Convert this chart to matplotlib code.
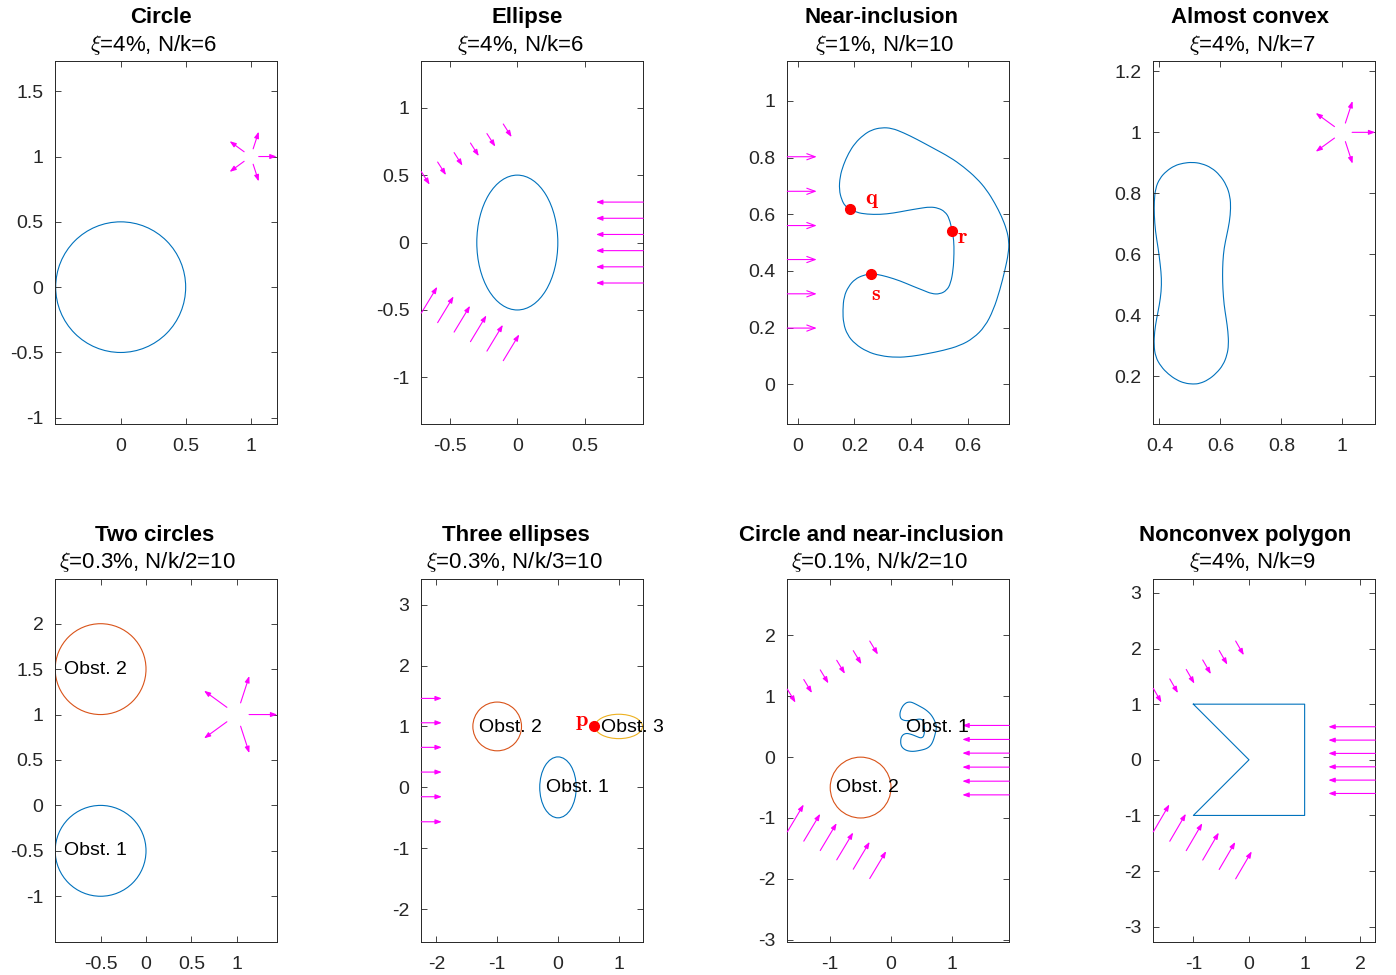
import numpy as np
import matplotlib
matplotlib.use("Agg")
import matplotlib.pyplot as plt
from matplotlib.path import Path
from matplotlib.patches import PathPatch, Ellipse

plt.rcParams['font.family'] = ['Liberation Sans', 'DejaVu Sans']
plt.rcParams['mathtext.fontset'] = 'cm'
plt.rcParams['axes.unicode_minus'] = False

BLUE, ORANGE, YELLOW = '#0072BD', '#D95319', '#EDB120'
MAG, RED, AXC = '#FF00FF', '#FF0000', '#262626'

titles = ['Circle', 'Ellipse', 'Near-inclusion', 'Almost convex',
          'Two circles', 'Three ellipses', 'Circle and near-inclusion', 'Nonconvex polygon']
subtitles = [r'$\xi$=4%, N/k=6', r'$\xi$=4%, N/k=6', r'$\xi$=1%, N/k=10', r'$\xi$=4%, N/k=7',
             r'$\xi$=0.3%, N/k/2=10', r'$\xi$=0.3%, N/k/3=10', r'$\xi$=0.1%, N/k/2=10', r'$\xi$=4%, N/k=9']

xlims = [(-0.503, 1.205), (-0.711, 0.933), (-0.037, 0.747), (0.380, 1.108),
         (-0.999, 1.446), (-2.248, 1.403), (-1.706, 1.946), (-1.72, 2.27)]
ylims = [(-1.046, 1.729), (-1.344, 1.344), (-0.140, 1.140), (0.044, 1.233),
         (-1.498, 2.492), (-2.53, 3.42), (-3.03, 2.928), (-3.266, 3.25)]
xticks = [[0, 0.5, 1], [-0.5, 0, 0.5], [0, 0.2, 0.4, 0.6], [0.4, 0.6, 0.8, 1],
          [-0.5, 0, 0.5, 1], [-2, -1, 0, 1], [-1, 0, 1], [-1, 0, 1, 2]]
yticks = [[-1, -0.5, 0, 0.5, 1, 1.5], [-1, -0.5, 0, 0.5, 1], [0, 0.2, 0.4, 0.6, 0.8, 1],
          [0.2, 0.4, 0.6, 0.8, 1, 1.2], [-1, -0.5, 0, 0.5, 1, 1.5, 2],
          [-2, -1, 0, 1, 2, 3], [-3, -2, -1, 0, 1, 2], [-3, -2, -1, 0, 1, 2, 3]]

# traced boundary of the near-inclusion obstacle
near_x = [0.182, 0.208, 0.244, 0.291, 0.338, 0.385, 0.432, 0.467, 0.496, 0.520, 0.535, 0.545,
          0.551, 0.552, 0.549, 0.540, 0.526, 0.502, 0.473, 0.444, 0.408, 0.361, 0.314, 0.279,
          0.258, 0.232, 0.202, 0.179, 0.163, 0.159, 0.161, 0.175, 0.202, 0.244, 0.291, 0.349,
          0.402, 0.455, 0.514, 0.573, 0.620, 0.661, 0.691, 0.714, 0.732, 0.744, 0.746, 0.738,
          0.720, 0.696, 0.667, 0.632, 0.585, 0.538, 0.479, 0.420, 0.373, 0.332, 0.296, 0.261,
          0.232, 0.202, 0.179, 0.161, 0.149, 0.146, 0.155, 0.167]
near_y = [0.620, 0.606, 0.600, 0.599, 0.604, 0.613, 0.621, 0.626, 0.622, 0.609, 0.586, 0.542,
          0.509, 0.462, 0.404, 0.356, 0.331, 0.318, 0.319, 0.331, 0.345, 0.365, 0.380, 0.388,
          0.389, 0.385, 0.371, 0.345, 0.309, 0.262, 0.215, 0.174, 0.142, 0.115, 0.100, 0.094,
          0.098, 0.107, 0.119, 0.136, 0.162, 0.203, 0.262, 0.333, 0.404, 0.462, 0.504, 0.545,
          0.592, 0.639, 0.686, 0.727, 0.768, 0.801, 0.833, 0.865, 0.888, 0.904, 0.906, 0.898,
          0.880, 0.851, 0.815, 0.774, 0.733, 0.686, 0.651, 0.629]

# traced boundary of the almost convex obstacle
conv_x = [0.507, 0.538, 0.571, 0.598, 0.620, 0.632, 0.634, 0.630, 0.621, 0.612, 0.608, 0.607,
          0.608, 0.612, 0.619, 0.625, 0.627, 0.622, 0.609, 0.587, 0.560, 0.532, 0.511, 0.483,
          0.456, 0.429, 0.405, 0.387, 0.382, 0.384, 0.391, 0.400, 0.406, 0.407, 0.403, 0.396,
          0.387, 0.383, 0.383, 0.387, 0.401, 0.423, 0.450, 0.478]
conv_y = [0.902, 0.898, 0.884, 0.860, 0.827, 0.789, 0.751, 0.707, 0.663, 0.620, 0.576, 0.532,
          0.488, 0.434, 0.390, 0.346, 0.303, 0.270, 0.237, 0.210, 0.188, 0.176, 0.174, 0.177,
          0.188, 0.207, 0.232, 0.264, 0.303, 0.346, 0.390, 0.434, 0.478, 0.521, 0.565, 0.620,
          0.674, 0.729, 0.773, 0.816, 0.849, 0.873, 0.891, 0.899]

poly_x = [-1, 1, 1, -1, 0, -1]
poly_y = [1, 1, -1, -1, 0, 1]

# obstacles: (panel, cx, cy, width, height, colour)
obst_panel = [0, 1, 4, 4, 5, 5, 5, 6]
obst_cx = [0, 0, -0.5, -0.5, 0, -1, 1.0, -0.5]
obst_cy = [0, 0, -0.5, 1.5, 0, 1, 1.0, -0.5]
obst_w = [1.0, 0.6, 1.0, 1.0, 0.6, 0.8, 0.78, 1.0]
obst_h = [1.0, 1.0, 1.0, 1.0, 1.0, 0.8, 0.4, 1.0]
obst_col = [BLUE, BLUE, BLUE, ORANGE, BLUE, ORANGE, YELLOW, ORANGE]

# point sources: (panel, centre, inner/outer radius)
src_panel = [0, 3, 4]
src_r0 = [0.062, 0.032, 0.135]
src_r1 = [0.200, 0.108, 0.446]
src_angles = [0, 72, 144, 216, 288]

# plane wave arrow groups: tails and direction vector
wave_panel = [1, 1, 1, 2, 5, 6, 6, 6, 7, 7, 7]
wave_x0 = [[-0.711, -0.590, -0.468, -0.347, -0.225, -0.104],
           [-0.711, -0.590, -0.468, -0.347, -0.225, -0.104],
           [0.933] * 6,
           [-0.037] * 6,
           [-2.248] * 6,
           [-1.706, -1.435, -1.164, -0.893, -0.621, -0.350],
           [-1.706, -1.435, -1.164, -0.893, -0.621, -0.350],
           [1.946] * 6,
           [-1.720, -1.424, -1.128, -0.832, -0.536, -0.240],
           [-1.720, -1.424, -1.128, -0.832, -0.536, -0.240],
           [2.270] * 6]
wave_y0 = [[0.526, 0.597, 0.667, 0.738, 0.808, 0.879],
           [-0.523, -0.594, -0.664, -0.735, -0.805, -0.876],
           [0.30, 0.18, 0.06, -0.06, -0.18, -0.30],
           [0.198, 0.319, 0.440, 0.560, 0.681, 0.803],
           [1.46, 1.06, 0.657, 0.251, -0.154, -0.565],
           [1.118, 1.276, 1.434, 1.592, 1.750, 1.908],
           [-1.228, -1.381, -1.535, -1.688, -1.842, -1.995],
           [0.521, 0.291, 0.066, -0.164, -0.395, -0.620],
           [1.284, 1.454, 1.624, 1.795, 1.965, 2.135],
           [-1.295, -1.464, -1.633, -1.802, -1.971, -2.140],
           [0.594, 0.354, 0.115, -0.126, -0.365, -0.605]]
wave_dx = [0.062, 0.118, -0.350, 0.104, 0.338, 0.135, 0.270, -0.773, 0.147, 0.289, -0.844]
wave_dy = [-0.097, 0.195, 0, 0, 0, -0.222, 0.450, 0, -0.255, 0.494, 0]

# marked points
pt_panel = [2, 2, 2, 5]
pt_x = [0.183, 0.546, 0.258, 0.592]
pt_y = [0.620, 0.541, 0.388, 1.0]
pt_lab = ['q', 'r', 's', 'p']
lab_x = [0.261, 0.583, 0.276, 0.40]
lab_y = [0.653, 0.519, 0.315, 1.08]

# obstacle labels
txt_panel = [4, 4, 5, 5, 5, 6, 6]
txt_x = [-0.9, -0.9, -0.2, -1.3, 0.70, 0.25, -0.9]
txt_y = [-0.5, 1.5, 0.0, 0.985, 0.985, 0.49, -0.5]
txt_s = ['Obst. 1', 'Obst. 2', 'Obst. 1', 'Obst. 2', 'Obst. 3', 'Obst. 1', 'Obst. 2']

# layout (pixels)
W, H = 1396, 975
col_left = [55.3, 421.3, 787.3, 1153.3]
row_top = [61.3, 579.0]
AW, AH = 222.0, 362.5
t1_off = [-5, -5.6, -17, -14, -12, -16, -27, -19]
t2_off = [-12.6, -11.8, -14, -12, -18.5, -17.6, -19, -12]


def smooth_closed(x, y):
    p = np.column_stack([x, y])
    m = (p + np.roll(p, -1, axis=0)) / 2
    verts = [m[-1]]
    codes = [Path.MOVETO]
    for i in range(len(p)):
        verts += [p[i], m[i]]
        codes += [Path.CURVE3, Path.CURVE3]
    return Path(verts, codes)


def arrow(ax, x0, y0, dx, dy, style):
    ax.annotate('', xy=(x0 + dx, y0 + dy), xytext=(x0, y0), annotation_clip=False,
                arrowprops=dict(arrowstyle=style, color=MAG, lw=0.8,
                                shrinkA=0, shrinkB=0, mutation_scale=10))


fig = plt.figure(figsize=(W / 100, H / 100), dpi=100)
axes = []
for i in range(8):
    r, c = divmod(i, 4)
    ax = fig.add_axes([col_left[c] / W, 1 - (row_top[r] + AH) / H, AW / W, AH / H])
    ax.set_xlim(*xlims[i])
    ax.set_ylim(*ylims[i])
    ax.set_xticks(xticks[i])
    ax.set_yticks(yticks[i])
    ax.set_xticklabels([f'{v:g}' for v in xticks[i]])
    ax.set_yticklabels([f'{v:g}' for v in yticks[i]])
    ax.tick_params(direction='in', length=4, width=0.6, top=True, right=True,
                   labelsize=14, color=AXC, labelcolor=AXC)
    ax.tick_params(axis='x', pad=10.5)
    ax.tick_params(axis='y', pad=8.5)
    for sp in ax.spines.values():
        sp.set_color(AXC)
        sp.set_linewidth(0.7)
    ax.text(0.5 + t1_off[i] / AW, 1 + 43.5 / AH, titles[i], transform=ax.transAxes,
            ha='center', va='center', fontsize=16, fontweight='bold', color='black')
    ax.text(0.5 + t2_off[i] / AW, 1 + 16.5 / AH, subtitles[i], transform=ax.transAxes,
            ha='center', va='center', fontsize=16, color='black')
    axes.append(ax)

for k in range(len(obst_panel)):
    axes[obst_panel[k]].add_patch(Ellipse((obst_cx[k], obst_cy[k]), obst_w[k], obst_h[k],
                                          fill=False, ec=obst_col[k], lw=0.8))

for i in [2, 6]:
    axes[i].add_patch(PathPatch(smooth_closed(near_x, near_y), fill=False, ec=BLUE, lw=0.8))
axes[3].add_patch(PathPatch(smooth_closed(conv_x, conv_y), fill=False, ec=BLUE, lw=0.8))
axes[7].plot(poly_x, poly_y, color=BLUE, lw=0.8)

small = '-|>,head_length=0.38,head_width=0.14'
for k, p in enumerate(src_panel):
    for a in src_angles:
        ca, sa = np.cos(np.radians(a)), np.sin(np.radians(a))
        arrow(axes[p], 1 + src_r0[k] * ca, 1 + src_r0[k] * sa,
              (src_r1[k] - src_r0[k]) * ca, (src_r1[k] - src_r0[k]) * sa, small)

for k, p in enumerate(wave_panel):
    style = '->,head_length=0.6,head_width=0.22' if p == 2 else small
    for x0, y0 in zip(wave_x0[k], wave_y0[k]):
        arrow(axes[p], x0, y0, wave_dx[k], wave_dy[k], style)

for k, p in enumerate(txt_panel):
    axes[p].text(txt_x[k], txt_y[k], txt_s[k], fontsize=14, ha='left', va='center', color='black')

for k, p in enumerate(pt_panel):
    axes[p].plot(pt_x[k], pt_y[k], 'o', color=RED, ms=7, zorder=5)
    axes[p].text(lab_x[k], lab_y[k], r'$\mathbf{' + pt_lab[k] + '}$', color=RED,
                 fontsize=16, ha='center', va='center')

fig.savefig('out.png', dpi=100)
